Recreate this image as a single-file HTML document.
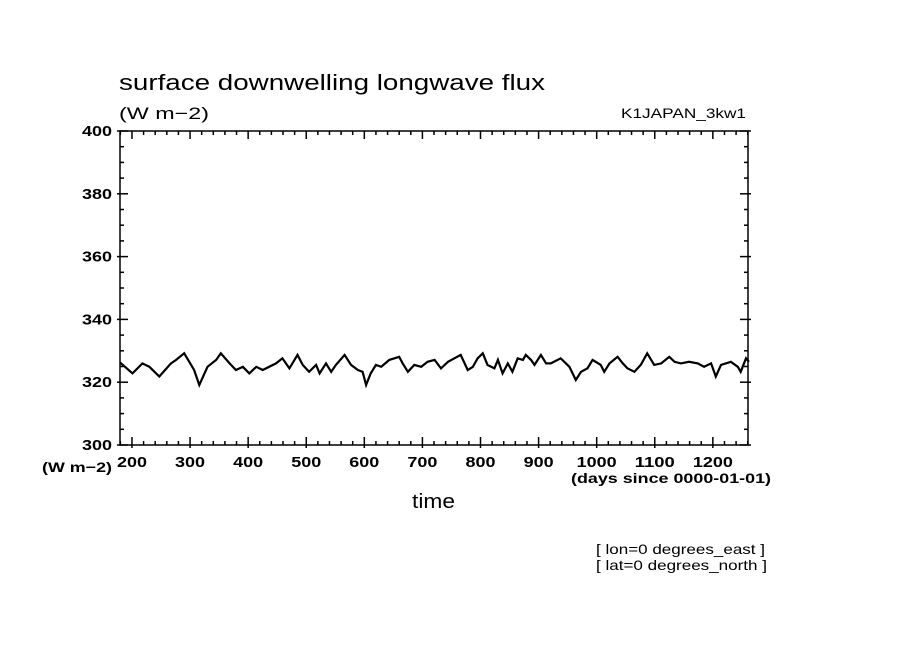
<!DOCTYPE html>
<html><head><meta charset="utf-8"><style>
html,body{margin:0;padding:0;background:#fff;}
svg text{font-family:"Liberation Sans",sans-serif;fill:#000;}
</style></head><body>
<svg id="chart" width="904" height="654" viewBox="0 0 904 654" xmlns="http://www.w3.org/2000/svg">
<rect width="904" height="654" fill="#fff"/>
<text x="119" y="90" font-size="22" textLength="426" lengthAdjust="spacingAndGlyphs">surface downwelling longwave flux</text>
<text x="119" y="119" font-size="17" textLength="90" lengthAdjust="spacingAndGlyphs">(W m−2)</text>
<text x="621" y="118" font-size="14" textLength="125" lengthAdjust="spacingAndGlyphs">K1JAPAN_3kw1</text>
<text x="42" y="472" font-size="14" font-weight="bold" textLength="70" lengthAdjust="spacingAndGlyphs">(W m−2)</text>
<text x="571" y="483" font-size="14" font-weight="bold" textLength="200" lengthAdjust="spacingAndGlyphs">(days since 0000-01-01)</text>
<text x="412" y="508" font-size="20" textLength="43" lengthAdjust="spacingAndGlyphs">time</text>
<text x="596" y="554" font-size="14" textLength="169" lengthAdjust="spacingAndGlyphs">[ lon=0 degrees_east ]</text>
<text x="596" y="570" font-size="14" textLength="171" lengthAdjust="spacingAndGlyphs">[ lat=0 degrees_north ]</text>
<g id="axes"></g>
<g id="series"></g>
</svg>
<script>
const days = [173,201,218,230,247,267,276,290,307,316,330,345,353,368,379,391,402,414,425,448,459,471,485,494,505,517,523,534,543,551,566,577,589,597,603,611,620,629,643,660,666,675,686,698,709,721,732,744,755,766,778,787,795,804,812,824,830,838,847,855,864,873,878,887,893,904,913,921,938,953,964,973,984,993,1007,1013,1022,1036,1045,1053,1065,1076,1087,1099,1111,1125,1134,1145,1159,1174,1185,1197,1205,1214,1231,1243,1248,1257,1262];
const flux = [326.3,322.8,326.0,324.9,321.8,326.0,327.1,329.2,323.9,319.1,324.9,327.1,329.2,326.0,323.9,324.9,322.8,324.9,323.9,326.0,327.6,324.4,328.7,325.5,323.3,325.5,322.8,326.0,323.3,325.5,328.7,325.5,323.9,323.3,319.1,322.8,325.5,324.9,327.1,328.1,326.0,323.3,325.5,324.9,326.5,327.1,324.4,326.5,327.6,328.7,323.9,324.9,327.6,329.2,325.5,324.4,327.1,322.8,326.0,323.3,327.6,327.1,328.7,327.1,325.5,328.7,326.0,326.0,327.6,324.9,320.7,323.3,324.4,327.1,325.5,323.3,326.0,328.1,326.0,324.4,323.3,325.5,329.2,325.5,326.0,328.1,326.5,326.0,326.5,326.0,324.9,326.0,321.8,325.5,326.5,324.9,323.3,327.6,326.5];
const yTicks = [300,320,340,360,380,400];
const xTicks = [200,300,400,500,600,700,800,900,1000,1100,1200];

const L=120,R=748,T=131,B=445,X0=179.4,X1=1260.5,Y0=300,Y1=400;
const sx=d=>L+(d-X0)/(X1-X0)*(R-L);
const sy=v=>B-(v-Y0)/(Y1-Y0)*(B-T);
const NS="http://www.w3.org/2000/svg";
const ax=document.getElementById('axes');
function ln(x1,y1,x2,y2,name){
  const e=document.createElementNS(NS,'line');
  e.setAttribute('x1',x1);e.setAttribute('y1',y1);e.setAttribute('x2',x2);e.setAttribute('y2',y2);
  e.setAttribute('stroke','#000');e.setAttribute('stroke-width','1.5');
  
  
  ax.appendChild(e);
}
function tx(x,y,s,anchor,name){
  const e=document.createElementNS(NS,'text');
  e.setAttribute('x',x);e.setAttribute('y',y);e.setAttribute('font-size','15');
  e.setAttribute('font-weight','bold');e.setAttribute('text-anchor',anchor);
  e.setAttribute('textLength',s.length*10);e.setAttribute('lengthAdjust','spacingAndGlyphs');
  e.textContent=s;
  
  
  ax.appendChild(e);
}
const frame=document.createElementNS(NS,'rect');
frame.setAttribute('x',L);frame.setAttribute('y',T);frame.setAttribute('width',R-L);frame.setAttribute('height',B-T);
frame.setAttribute('fill','none');frame.setAttribute('stroke','#000');frame.setAttribute('stroke-width','1.5');


ax.appendChild(frame);
for(let v=Y0;v<=Y1;v+=5){
  const major=(v%20===0);const y=sy(v);const len=major?8:4;
  ln(L-(major?3:0),y,L+len,y,'y-tick');
  ln(R-len,y,R+(major?3:0),y,'y-tick-right');
}
yTicks.forEach(v=>tx(L-8,sy(v)+5,String(v),'end','y-tick-label'));
for(let d=180;d<=1260;d+=20){
  const major=(d%100===0);const x=sx(d);const len=major?8:4;
  ln(x,B-len,x,B+(major?3:0),'x-tick');
  ln(x,T,x,T+len,'x-tick-top');
}
xTicks.forEach(d=>tx(sx(d),B+22,String(d),'middle','x-tick-label'));
const p=document.createElementNS(NS,'polyline');
p.setAttribute('points',days.map((d,i)=>sx(Math.max(d,X0)).toFixed(1)+','+sy(flux[i]).toFixed(1)).join(' '));
p.setAttribute('fill','none');p.setAttribute('stroke','#000');p.setAttribute('stroke-width','2.2');
p.setAttribute('stroke-linejoin','miter');


document.getElementById('series').appendChild(p);
</script>
</body></html>
